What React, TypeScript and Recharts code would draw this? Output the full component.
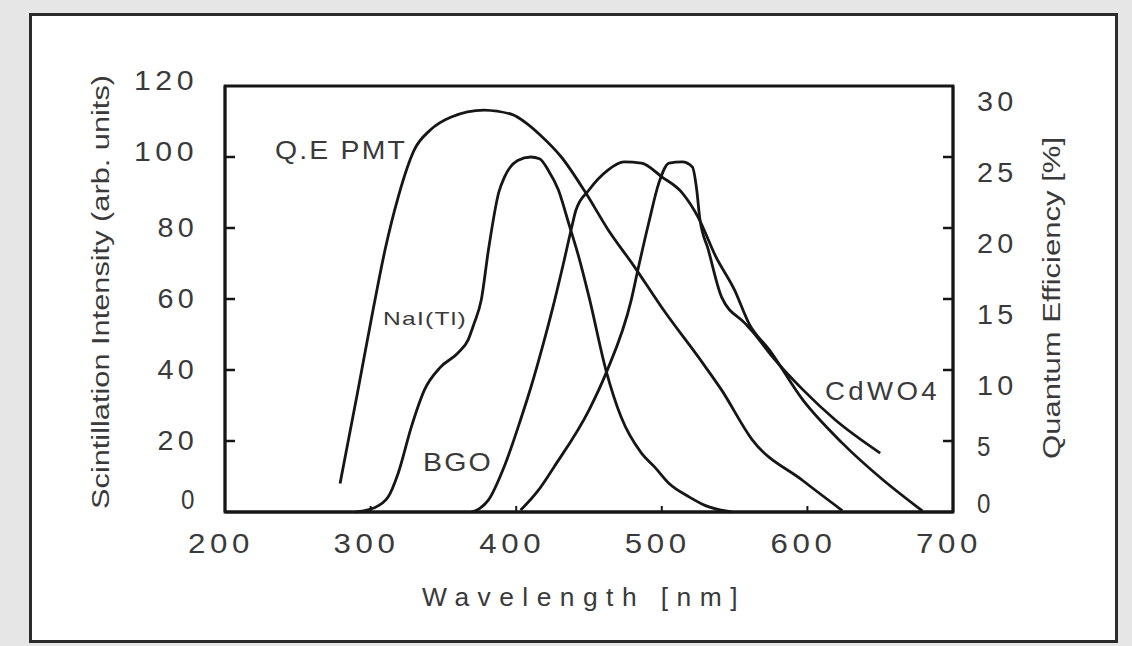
import React from 'react';
import { LineChart, Line, XAxis, YAxis, ReferenceArea } from 'recharts';

// axis ticks
const WAVELENGTH_TICKS = [200, 300, 400, 500, 600, 700];
const INTENSITY_TICKS = [0, 20, 40, 60, 80, 100, 120];
const QE_TICKS = [0, 5, 10, 15, 20, 25, 30];

// Q.E of the PMT, read on the right axis (%)
const qeNm = [279, 291, 302, 310, 319, 330, 341, 355, 378, 397, 408, 417, 431, 447, 463, 481, 500, 528, 541, 562, 597, 624];
const qePct = [2.0, 8.4, 14.4, 18.5, 22.2, 25.5, 26.9, 27.8, 28.3, 28.0, 27.3, 26.5, 25.0, 22.6, 19.9, 17.3, 14.4, 10.5, 8.6, 5.1, 2.2, 0.1];

// NaI(Tl) emission (arb. units)
const naiNm = [290, 302, 312, 319, 328, 337, 348, 360, 367, 371, 376, 381, 388, 392, 401, 410, 416, 422, 429, 436, 443, 450, 462, 472, 486, 495, 505, 519, 530, 548];
const naiVal = [0, 1.1, 4.2, 11, 24, 34.4, 40.8, 44.8, 48.5, 53, 59.7, 74, 90, 94.4, 99, 100, 99.5, 96.3, 90.7, 81.4, 71.8, 60.6, 39.4, 26.8, 16.6, 12.7, 8, 4.2, 1.8, 0];

// BGO emission
const bgoNm = [369, 375, 381, 392, 403, 410, 419, 426, 433, 438, 441, 450, 463, 474, 486, 500, 514, 525, 537, 550, 560, 574, 597, 624, 652, 679];
const bgoVal = [0, 1, 3.4, 13, 26, 35, 48, 59, 71, 80, 85, 90.7, 96.3, 98.6, 98.3, 94.4, 89.9, 83, 72, 62.5, 53, 45.6, 31.5, 19.4, 9, 0.3];

// CdWO4 emission
const cdwNm = [403, 415, 426, 450, 462, 479, 484, 491, 498, 505, 514, 521, 524, 526, 532, 541, 557, 562, 576, 597, 619, 650];
const cdwVal = [0.5, 6, 12.7, 28.7, 39.4, 59.7, 69, 81.4, 92.7, 98.3, 98.6, 97.2, 90.7, 83, 73.8, 60.6, 53.2, 51, 43.7, 34.4, 26, 16.6];

const toRows = (nm: number[], v: number[]) => nm.map((x, i) => ({ nm: x, v: v[i] }));

const W = 1132;
const H = 646;
const PLOT = { left: 225, right: 953, top: 86, bottom: 512 };
const INK = '#161616';
const TEXT = '#3a3a3a';
const FONT = '"Liberation Sans", Arial, sans-serif';

const digitsWidth = (s: string) => s.length * 17 + (s.length - 1) * 6.5;

function Stretched({ x, y, w, size, children, spacing = 0 }: any) {
  return (
    <text x={x} y={y} fontSize={size} fontFamily={FONT} fill={TEXT} letterSpacing={spacing}
      textLength={w} lengthAdjust="spacingAndGlyphs" dominantBaseline="central">
      {children}
    </text>
  );
}

const LeftTick = (props: any) => {
  const { y, payload } = props;
  const v = payload.value;
  const s = String(v);
  const w = digitsWidth(s);
  const dy = v === 0 ? -12 : v >= 100 ? -5 : 0;
  return (
    <g>
      {v > 0 && v < 120 && <line x1={PLOT.left} x2={PLOT.left + 10} y1={y} y2={y} stroke={INK} strokeWidth={2.5} />}
      <Stretched x={198 - w} y={y + dy} w={w} size={27} spacing={4}>{s}</Stretched>
    </g>
  );
};

const RightTick = (props: any) => {
  const { y, payload } = props;
  const v = payload.value;
  const s = String(v);
  const dy = v === 0 ? -8 : v === 5 ? 6 : 16;
  return (
    <g>
      {v > 0 && v < 30 && <line x1={PLOT.right - 10} x2={PLOT.right} y1={y} y2={y} stroke={INK} strokeWidth={2.5} />}
      <Stretched x={977} y={y + dy} w={digitsWidth(s)} size={27} spacing={4}>{s}</Stretched>
    </g>
  );
};

const BottomTick = (props: any) => {
  const { x, payload } = props;
  const v = payload.value;
  const s = String(v);
  const w = 66;
  return (
    <g>
      {v > 200 && v < 700 && <line x1={x} x2={x} y1={PLOT.bottom} y2={PLOT.bottom - 6} stroke={INK} strokeWidth={2} />}
      <Stretched x={x - 4 - w / 2} y={544} w={w} size={27} spacing={4}>{s}</Stretched>
    </g>
  );
};

export default function App() {
  const lineProps = { type: 'monotone' as const, dataKey: 'v', dot: false, stroke: INK, strokeWidth: 2.8, isAnimationActive: false };
  return (
    <div style={{ position: 'absolute', left: 0, top: 0, width: W, height: H, background: '#e6e6e6', overflow: 'hidden' }}>
      <div style={{ position: 'absolute', left: 29, top: 13, width: 1089, height: 630, background: '#fff', border: '3px solid #2b2b2b', boxSizing: 'border-box' }} />
      <div style={{ position: 'absolute', left: 0, top: 0 }}>
        <LineChart width={W} height={H}
          margin={{ top: PLOT.top, bottom: H - PLOT.bottom - 40, left: PLOT.left - 60, right: W - PLOT.right - 60 }}>
          <XAxis dataKey="nm" type="number" domain={[200, 700]} ticks={WAVELENGTH_TICKS} interval={0} allowDataOverflow
            height={40} tickLine={false} axisLine={{ stroke: INK, strokeWidth: 2.8 }} tick={<BottomTick />} />
          <YAxis yAxisId="left" domain={[0, 120]} ticks={INTENSITY_TICKS} interval={0} width={60}
            tickLine={false} axisLine={{ stroke: INK, strokeWidth: 2.8 }} tick={<LeftTick />} />
          <YAxis yAxisId="right" orientation="right" domain={[0, 30]} ticks={QE_TICKS} interval={0} width={60}
            tickLine={false} axisLine={{ stroke: INK, strokeWidth: 2.8 }} tick={<RightTick />} />
          <ReferenceArea yAxisId="left" x1={200} x2={700} y1={0} y2={120} fill="none" fillOpacity={0} stroke={INK} strokeWidth={2.8} />
          <Line {...lineProps} yAxisId="right" data={toRows(qeNm, qePct)} name="Q.E PMT" />
          <Line {...lineProps} yAxisId="left" data={toRows(naiNm, naiVal)} name="NaI(Tl)" />
          <Line {...lineProps} yAxisId="left" data={toRows(bgoNm, bgoVal)} name="BGO" />
          <Line {...lineProps} yAxisId="left" data={toRows(cdwNm, cdwVal)} name="CdWO4" />
        </LineChart>
      </div>
      <svg width={W} height={H} style={{ position: 'absolute', left: 0, top: 0, pointerEvents: 'none' }}>
        <g transform="translate(101,292) rotate(-90)">
          <Stretched x={-217} y={0} w={434} size={23}>Scintillation Intensity (arb. units)</Stretched>
        </g>
        <g transform="translate(1052,298) rotate(-90)">
          <Stretched x={-161} y={0} w={322} size={23}>Quantum Efficiency [%]</Stretched>
        </g>
        <Stretched x={422} y={597} w={324} size={25} spacing={8}>Wavelength [nm]</Stretched>
        <Stretched x={275} y={150} w={132} size={26} spacing={2}>Q.E PMT</Stretched>
        <Stretched x={383} y={318} w={84} size={19} spacing={1}>NaI(Tl)</Stretched>
        <Stretched x={423} y={462} w={70} size={26} spacing={2}>BGO</Stretched>
        <Stretched x={825} y={391} w={115} size={25} spacing={3}>CdWO4</Stretched>
      </svg>
    </div>
  );
}
